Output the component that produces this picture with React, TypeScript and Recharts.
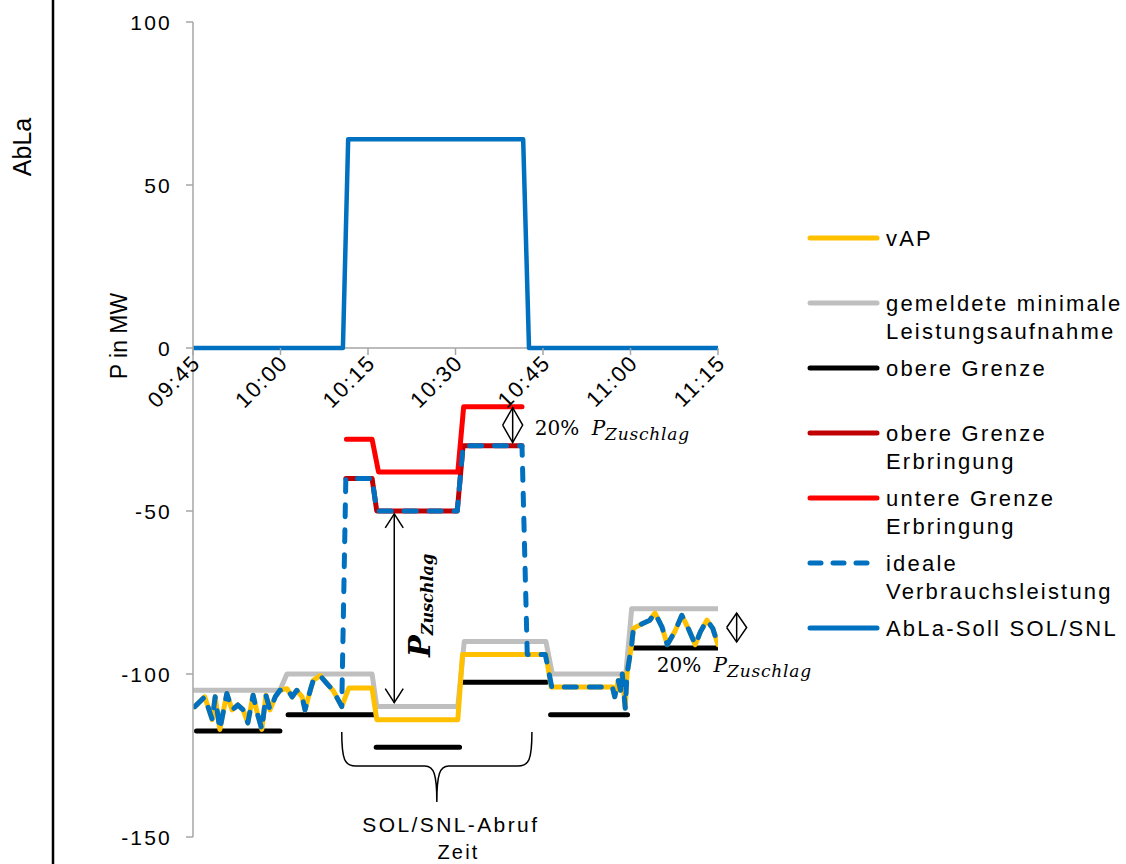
import React from 'react';
import { LineChart, Line, XAxis, YAxis, ReferenceLine, ReferenceDot, Legend } from 'recharts';

type Pt = [number, number];

// x = minutes after 09:45
const timeTicks = [0, 15, 30, 45, 60, 75, 90];
const timeLabels = ['09:45', '10:00', '10:15', '10:30', '10:45', '11:00', '11:15'];
const powerTicks = [-150, -100, -50, 0, 50, 100];

const sollPoints: Pt[] = [[0, 0], [25.7, 0], [26.6, 64], [56.6, 64], [57.6, 0], [90, 0]];

const minPoints: Pt[] = [
  [0, -105], [14.9, -105], [16.1, -100], [30.7, -100], [31.5, -110], [45.4, -110],
  [46.5, -90], [60.5, -90], [61.6, -100], [74.2, -100], [75.2, -80], [90, -80],
];

// [start, end, value]
const upperLimitSegs: [number, number, number][] = [
  [0.6, 14.9, -117.5], [16.3, 30.9, -112.5], [31.4, 45.7, -122.5],
  [46.3, 60.6, -102.5], [61.3, 74.5, -112.5], [75.5, 90, -92],
];

const noiseEarly: Pt[] = [
  [0.3, -110], [2.0, -107], [3.3, -114], [3.8, -107], [4.6, -117], [5.8, -106],
  [6.7, -111], [7.7, -109.5], [8.6, -111], [9.4, -115], [10.3, -106.5], [11.1, -112.5],
  [11.8, -117], [12.5, -106.5], [13.2, -111], [14.1, -107], [14.9, -105], [16.1, -104.5],
  [17.0, -107], [17.8, -105], [18.7, -107], [19.2, -111], [20.1, -105], [20.6, -102],
  [21.8, -100.5], [23.0, -103], [24.0, -105], [25.5, -110],
];

const noiseLate: Pt[] = [
  [72.3, -107], [72.9, -102], [73.3, -105], [73.6, -100], [74.1, -110.5], [74.4, -100],
  [75.2, -91], [75.5, -86], [77.1, -84.5], [78.3, -83.5], [79.2, -81.3], [80.4, -85.6],
  [81.3, -91], [82.6, -87], [83.8, -82], [84.9, -86], [86.1, -91], [87.0, -87],
  [88.1, -83.5], [89.1, -86], [90, -91],
];

const vapCall: Pt[] = [
  [26.7, -104.3], [30.7, -104.3], [31.5, -114], [45.4, -114], [46.2, -94],
  [60.5, -94], [61.4, -104], [71.9, -104],
];

const idealCall: Pt[] = [
  [26.2, -40], [30.7, -40], [31.5, -50], [45.3, -50], [46.3, -30], [56.4, -30],
  [57.3, -94], [60.4, -94], [61.5, -104], [71.9, -104],
];

const upperDeliveryPoints: Pt[] = [[26.2, -40], [30.7, -40], [31.5, -50], [45.3, -50], [46.3, -30], [56.4, -30]];
const lowerDeliveryPoints: Pt[] = [[26.3, -28], [30.7, -28], [31.8, -38], [45.4, -38], [46.4, -18], [56.4, -18]];

const colors = {
  vap: '#FFC000',
  min: '#BFBFBF',
  upper: '#000000',
  upperDel: '#C00000',
  lowerDel: '#FF0000',
  ideal: '#0070C0',
  soll: '#0070C0',
  axis: '#A6A6A6',
};

const SANS = '"Liberation Sans", Arial, sans-serif';
const SERIF = '"DejaVu Serif", "Liberation Serif", serif';

const toRows = (pts: Pt[]) => pts.map(([t, v]) => ({ t, v }));
const segRows = (segs: [number, number, number][]) =>
  segs.flatMap(([a, b, v], i) => {
    const rows: { t: number; v: number | null }[] = [{ t: a, v }, { t: b, v }];
    if (i < segs.length - 1) rows.push({ t: (b + segs[i + 1][0]) / 2, v: null });
    return rows;
  });

const sollRows = toRows(sollPoints);
const minRows = toRows(minPoints);
const upperRows = segRows(upperLimitSegs);
const vapRows = toRows([...noiseEarly, ...vapCall, ...noiseLate]);
const idealRows = toRows([...noiseEarly, ...idealCall, ...noiseLate]);
const upperDelRows = toRows(upperDeliveryPoints);
const lowerDelRows = toRows(lowerDeliveryPoints);

const legendItems = [
  { lines: ['vAP'], color: colors.vap },
  { lines: ['gemeldete minimale', 'Leistungsaufnahme'], color: colors.min },
  { lines: ['obere Grenze'], color: colors.upper },
  { lines: ['obere Grenze', 'Erbringung'], color: colors.upperDel },
  { lines: ['untere Grenze', 'Erbringung'], color: colors.lowerDel },
  { lines: ['ideale', 'Verbrauchsleistung'], color: colors.ideal, dashed: true },
  { lines: ['AbLa-Soll SOL/SNL'], color: colors.soll },
];

const YTick = (props: any) => {
  const { x, y, payload } = props;
  return (
    <text x={x + 2} y={y} dy={7.5} textAnchor="end" fontSize={21} fill="#000" fontFamily={SANS} letterSpacing={2.2}>
      {payload.value}
    </text>
  );
};

const timeTickShape = (label: string) => (p: any) => {
  const ax = p.cx + 9;
  const ay = p.cy + 16;
  return (
    <g>
      <line x1={p.cx} y1={p.cy} x2={p.cx} y2={p.cy + 7} stroke={colors.axis} strokeWidth={1.5} />
      <text x={ax} y={ay} textAnchor="end" fontSize={22} fontFamily={SANS} letterSpacing={1.8} fill="#000"
        transform={`rotate(-45 ${ax} ${ay})`}>
        {label}
      </text>
    </g>
  );
};

const doubleArrow = (p: any) => {
  const { x1, y1, y2 } = p;
  const mid = (y1 + y2) / 2;
  return (
    <g stroke="#000" strokeWidth={1.5} fill="none">
      <line x1={x1} y1={y1} x2={x1} y2={y2} />
      <polyline points={`${x1 - 10},${mid} ${x1},${y1} ${x1 + 10},${mid} ${x1},${y2} ${x1 - 10},${mid}`} />
    </g>
  );
};

const bigArrow = (p: any) => {
  const { x1, y1, y2 } = p;
  return (
    <g stroke="#000" strokeWidth={1.5} fill="none">
      <line x1={x1} y1={y1} x2={x1} y2={y2} />
      <polyline points={`${x1 - 9},${y1 + 14} ${x1},${y1} ${x1 + 9},${y1 + 14}`} />
      <polyline points={`${x1 - 9},${y2 - 14} ${x1},${y2} ${x1 + 9},${y2 - 14}`} />
    </g>
  );
};

const braceShape = (p: any) => {
  const { x1, y1, x2 } = p;
  const xm = (x1 + x2) / 2;
  const yb = y1 + 34;
  const d = `M ${x1} ${y1} C ${x1} ${y1 + 28} ${x1 + 3} ${yb} ${x1 + 14} ${yb} L ${xm - 12} ${yb} ` +
    `C ${xm - 3} ${yb} ${xm} ${yb + 8} ${xm} ${y1 + 70} C ${xm} ${yb + 8} ${xm + 3} ${yb} ${xm + 12} ${yb} ` +
    `L ${x2 - 14} ${yb} C ${x2 - 3} ${yb} ${x2} ${y1 + 28} ${x2} ${y1}`;
  return (
    <g>
      <path d={d} stroke="#000" strokeWidth={1.5} fill="none" />
      <text x={xm + 14} y={y1 + 100} textAnchor="middle" fontSize={21} fontFamily={SANS} letterSpacing={2.4} fill="#000">
        SOL/SNL-Abruf
      </text>
    </g>
  );
};

const shareText = (p: any) => (
  <text x={p.cx} y={p.cy} fontFamily={SERIF} fontSize={20} fill="#000">
    <tspan>20% </tspan>
    <tspan fontStyle="italic" dx={6}>P</tspan>
    <tspan fontStyle="italic" fontSize={17} dy={5} letterSpacing={0.8}>Zuschlag</tspan>
  </text>
);

const zuschlagText = (p: any) => (
  <text x={p.cx} y={p.cy} fontFamily={SERIF} fontWeight="bold" fontStyle="italic" fill="#000"
    transform={`rotate(-90 ${p.cx} ${p.cy})`}>
    <tspan fontSize={29}>P</tspan>
    <tspan fontSize={16} dy={3}>Zuschlag</tspan>
  </text>
);

const ZeitLabel = (props: any) => {
  const vb = props.viewBox;
  return (
    <text x={vb.x + vb.width / 2 + 3} y={vb.y + vb.height - 5} textAnchor="middle" fontSize={20} fontFamily={SANS} letterSpacing={2.2} fill="#000">
      Zeit
    </text>
  );
};

const PowerLabel = (props: any) => {
  const vb = props.viewBox;
  const x = vb.x - 6;
  const y = vb.y + 314;
  return (
    <text x={x} y={y} textAnchor="middle" fontSize={23} fontFamily={SANS} fill="#000" transform={`rotate(-90 ${x} ${y})`}>
      P in MW
    </text>
  );
};

const LegendBox = () => (
  <svg width={326} height={430}>
    {legendItems.map((item, i) => {
      const cy = 18 + 65 * i;
      return (
        <g key={i}>
          <line x1={10} y1={cy} x2={item.dashed ? 68 : 77} y2={cy} stroke={item.color} strokeWidth={5}
            strokeLinecap="round" strokeDasharray={item.dashed ? '11 12' : undefined} />
          {item.lines.map((ln, j) => (
            <text key={j} x={86} y={cy + 8 + j * 27.5} fontSize={22} fontFamily={SANS} letterSpacing={2.2} fill="#000">
              {ln}
            </text>
          ))}
        </g>
      );
    })}
  </svg>
);

const lineProps = {
  dataKey: 'v',
  type: 'linear' as const,
  dot: false,
  activeDot: false,
  isAnimationActive: false,
  strokeLinejoin: 'round' as const,
  strokeLinecap: 'round' as const,
};

export default function App() {
  return (
    <div style={{ position: 'absolute', left: 0, top: 0, width: 1126, height: 864, background: '#fff' }}>
      <svg width={1126} height={864} style={{ position: 'absolute', left: 0, top: 0 }}>
        <line x1={53} y1={0} x2={53} y2={864} stroke="#000" strokeWidth={2.5} />
        <text x={31} y={147} textAnchor="middle" fontSize={25} fontFamily={SANS} fill="#000" transform="rotate(-90 31 147)">
          AbLa
        </text>
      </svg>
      <div style={{ position: 'absolute', left: 0, top: 0 }}>
        <LineChart width={1126} height={864} margin={{ top: 22, right: 408, bottom: 0, left: 133 }}>
          <XAxis dataKey="t" type="number" domain={[0, 90]} ticks={timeTicks} allowDataOverflow height={27}
            axisLine={false} tickLine={false} tick={false} label={{ content: ZeitLabel }} />
          <YAxis type="number" domain={[-150, 100]} ticks={powerTicks} interval={0} width={60} allowDataOverflow
            stroke={colors.axis} strokeWidth={1.5} tickSize={7} tickMargin={16} tick={YTick}
            label={{ content: PowerLabel }} />
          <ReferenceLine y={0} stroke={colors.axis} strokeWidth={1.5} />
          {timeTicks.map((t, i) => (
            <ReferenceDot key={t} x={t} y={0} r={0} ifOverflow="visible" shape={timeTickShape(timeLabels[i])} />
          ))}
          <Legend layout="vertical" align="center" verticalAlign="middle" content={LegendBox}
            wrapperStyle={{ left: 800, top: 220, width: 326, height: 430 }} />
          <Line {...lineProps} data={minRows} name="gemeldete minimale Leistungsaufnahme" stroke={colors.min} strokeWidth={5} />
          <Line {...lineProps} data={upperRows} name="obere Grenze" stroke={colors.upper} strokeWidth={5} connectNulls={false} />
          <Line {...lineProps} data={vapRows} name="vAP" stroke={colors.vap} strokeWidth={5} />
          <Line {...lineProps} data={upperDelRows} name="obere Grenze Erbringung" stroke={colors.upperDel} strokeWidth={5} />
          <Line {...lineProps} data={lowerDelRows} name="untere Grenze Erbringung" stroke={colors.lowerDel} strokeWidth={5} />
          <Line {...lineProps} data={idealRows} name="ideale Verbrauchsleistung" stroke={colors.ideal} strokeWidth={5}
            strokeDasharray="12 13" />
          <Line {...lineProps} data={sollRows} name="AbLa-Soll SOL/SNL" stroke={colors.soll} strokeWidth={4.5} />
          <ReferenceLine segment={[{ x: 54.8, y: -18.3 }, { x: 54.8, y: -29 }]} ifOverflow="visible" shape={doubleArrow} />
          <ReferenceDot x={58.6} y={-26.7} r={0} ifOverflow="visible" shape={shareText} />
          <ReferenceLine segment={[{ x: 34.5, y: -50.9 }, { x: 34.5, y: -108.8 }]} ifOverflow="visible" shape={bigArrow} />
          <ReferenceDot x={40.6} y={-94.8} r={0} ifOverflow="visible" shape={zuschlagText} />
          <ReferenceLine segment={[{ x: 93.2, y: -81.3 }, { x: 93.2, y: -90.2 }]} ifOverflow="visible" shape={doubleArrow} />
          <ReferenceDot x={79.5} y={-99.4} r={0} ifOverflow="visible" shape={shareText} />
          <ReferenceLine segment={[{ x: 25.5, y: -117.8 }, { x: 58.1, y: -117.8 }]} ifOverflow="visible" shape={braceShape} />
        </LineChart>
      </div>
    </div>
  );
}
